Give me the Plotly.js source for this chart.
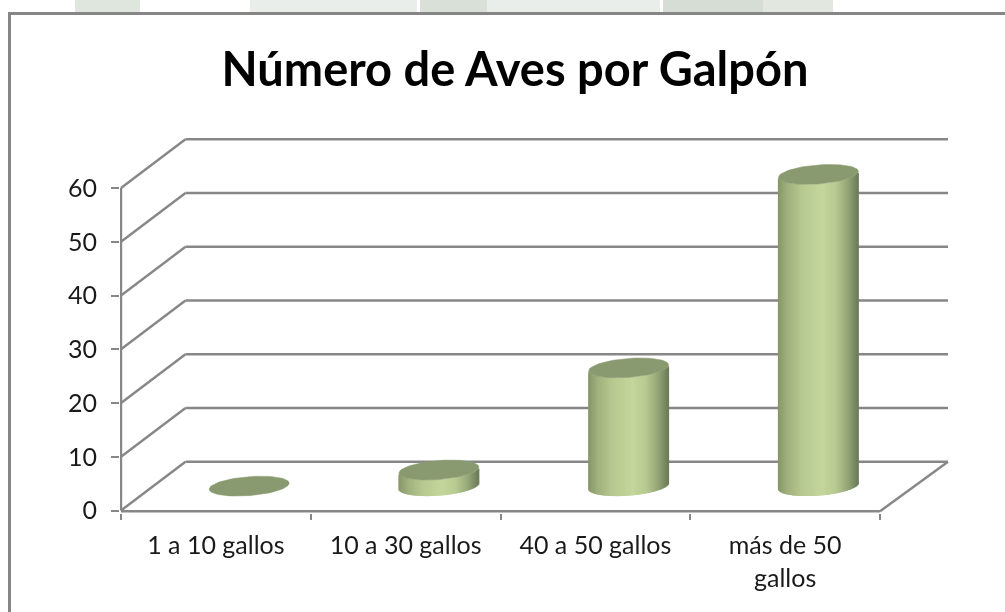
<!DOCTYPE html>
<html><head><meta charset="utf-8">
<script src="https://cdn.plot.ly/plotly-3.0.1.min.js"></script>
<style>html,body{margin:0;padding:0;background:#fff;overflow:hidden}#c{width:1005px;height:612px;filter:blur(0.45px)}</style>
</head><body><div id="c"></div>
<script>
const categories = ["1 a 10 gallos","10 a 30 gallos","40 a 50 gallos","más de 50<br>gallos"];
const values = [0, 3, 22, 58];
const yTicks = [0,10,20,30,40,50,60];
const titleText = "Número de Aves por Galpón";

// plot geometry (data units)
const GRID='#878787', TOP='#8a9a70', TXT='#1a1a1a', FONT='Lato, "Open Sans", sans-serif';
const pxX=189.75, pxY=5.375;
const dx=64.5/pxX, dxEnd=68/pxX, dy=48.7/pxY;
const halfW=40/pxX, halfH=9.5/pxY, shear=3/pxY;
const stops=[[-1,[135,150,105]],[-0.75,[160,178,125]],[-0.4,[182,201,144]],[-0.1,[190,209,150]],[0.1,[195,214,155]],[0.45,[183,202,145]],[0.75,[148,165,118]],[1,[108,123,88]]];
function shade(u){
  for(let i=1;i<stops.length;i++){
    if(u<=stops[i][0]){
      const a=stops[i-1],b=stops[i],f=(u-a[0])/(b[0]-a[0]);
      return 'rgb('+a[1].map((c,k)=>Math.round(c+(b[1][k]-c)*f)).join(',')+')';
    }
  }
  return 'rgb('+stops[stops.length-1][1].join(',')+')';
}
const centers=categories.map((_,i)=>i+0.5+dx/2+1/pxX);
const baseY=dy/2;

// cylinder body: vertical strips of a bar trace
const bx=[],by=[],bb=[],bc=[];
const nStrip=80;
values.forEach((v,i)=>{
  if(v<=0) return;
  for(let j=0;j<nStrip;j++){
    const u=(j+0.5)/nStrip*2-1;
    bx.push(centers[i]+u*halfW);
    by.push(v);
    bb.push(baseY+shear*u-halfH*Math.sqrt(1-u*u));
    bc.push(shade(u));
  }
});
const traces=[{type:'bar',x:bx,y:by,base:bb,width:2/pxX,marker:{color:bc,line:{width:0}},hoverinfo:'skip',showlegend:false,cliponaxis:false}];

// cylinder tops
values.forEach((v,i)=>{
  const ex=[],ey=[];
  for(let k=0;k<=72;k++){
    const t=k/72*2*Math.PI;
    ex.push(centers[i]+halfW*Math.cos(t));
    ey.push(baseY+v+shear*Math.cos(t)+halfH*Math.sin(t));
  }
  traces.push({type:'scatter',mode:'lines',x:ex,y:ey,fill:'toself',fillcolor:TOP,line:{width:0.5,color:TOP},hoverinfo:'skip',showlegend:false,cliponaxis:false});
});

// walls and floor
const shapes=[];
function seg(x0,y0,x1,y1){shapes.push({type:'line',xref:'x',yref:'y',x0,y0,x1,y1,layer:'below',line:{color:GRID,width:2.4}});}
yTicks.forEach(v=>{
  seg(0,v,dx,v+dy);
  seg(dx,v+dy,4+dxEnd,v+dy);
});
seg(0,0,0,60);
seg(0,-0.15,4,-0.15);
seg(4,-0.15,4+dxEnd,dy);

// frame and faint page background strip
const L=120,R=950,T=136,B=513;
const px=x=>(x-L)/(R-L), py=y=>(B-y)/(B-T);
function rect(x0,y0,x1,y1,c){shapes.push({type:'rect',xref:'paper',yref:'paper',x0:px(x0),x1:px(x1),y0:py(y1),y1:py(y0),fillcolor:c,line:{width:0},layer:'below'});}
[[75,140,'#dfe6de'],[250,417,'#e9eeea'],[420,487,'#d9e0d8'],[487,660,'#e9eeea'],[663,763,'#d6ddd4'],[763,833,'#e2e8e0']].forEach(r=>rect(r[0],0,r[1],12,r[2]));
rect(8,12,1005,15,'#868686');
rect(8,12,11,612,'#868686');

const layout={
  width:1005,height:612,margin:{l:L,r:1005-R,t:T,b:612-B,autoexpand:false},
  paper_bgcolor:'#ffffff',plot_bgcolor:'rgba(0,0,0,0)',showlegend:false,barmode:'overlay',
  title:{text:'<b>'+titleText+'</b>',x:515/1005,xanchor:'center',y:1-70/612,yanchor:'middle',font:{family:FONT,size:47,color:'#000'}},
  xaxis:{type:'linear',range:[-1/pxX,(R-121)/pxX],showgrid:false,zeroline:false,showline:false,fixedrange:true,
    tickmode:'array',tickvals:categories.map((_,i)=>i+0.5),ticktext:categories,ticks:'',
    ticklabelstandoff:15,tickfont:{family:FONT,size:25,color:TXT},tickangle:0,
    minor:{tickmode:'array',tickvals:[0,1,2,3,4],ticks:'outside',ticklen:6,tickwidth:2,tickcolor:GRID,showgrid:false}},
  yaxis:{range:[-(B-510.5)/pxY,(510.5-T)/pxY],showgrid:false,zeroline:false,showline:false,fixedrange:true,
    tickmode:'array',tickvals:yTicks,ticks:'outside',ticklen:8,tickwidth:2,tickcolor:GRID,
    ticklabelstandoff:9,tickfont:{family:FONT,size:25,color:TXT}},
  shapes:shapes
};
Plotly.newPlot('c',traces,layout,{displayModeBar:false,staticPlot:true});
</script></body></html>
